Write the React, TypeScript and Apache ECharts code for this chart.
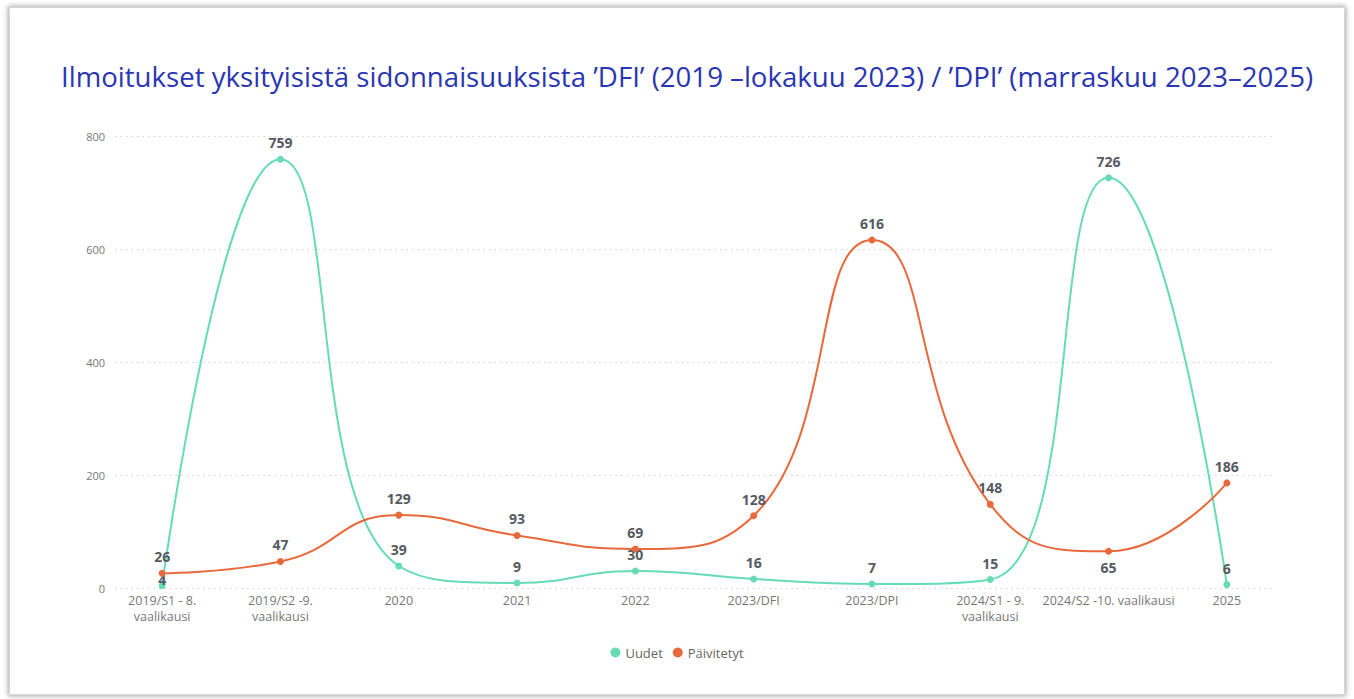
import React, { useEffect, useRef } from "react";
import * as echarts from "echarts";

const categories = [
  "2019/S1 - 8.\nvaalikausi",
  "2019/S2 -9.\nvaalikausi",
  "2020",
  "2021",
  "2022",
  "2023/DFI",
  "2023/DPI",
  "2024/S1 - 9.\nvaalikausi",
  "2024/S2 -10. vaalikausi",
  "2025",
];
const uudet = [4, 759, 39, 9, 30, 16, 7, 15, 726, 6];
const paivitetyt = [26, 47, 129, 93, 69, 128, 616, 148, 65, 186];
const belowIdx = [8]; // Päivitetyt labels placed below the point
const closeIdx = [0]; // Uudet labels tucked close to the point
const yTicks = { min: 0, max: 800, interval: 200 };

const TITLE =
  "Ilmoitukset yksityisistä sidonnaisuuksista ’DFI’ (2019 –lokakuu 2023) / ’DPI’ (marraskuu 2023–2025)";

const FONT = "'Open Sans', 'Noto Sans', sans-serif";
const GREEN = "#66dcb2";
const ORANGE = "#e8693b";

export default function App() {
  const ref = useRef<HTMLDivElement>(null);
  useEffect(() => {
    if (!ref.current) return;
    const chart = echarts.init(ref.current, undefined, { renderer: "svg" });
    const labelStyle = {
      show: true,
      fontFamily: FONT,
      fontSize: 14,
      fontWeight: "bold" as const,
      color: "#565a62",
      distance: 6,
    };
    chart.setOption({
      animation: false,
      textStyle: { fontFamily: FONT },
      title: {
        text: TITLE,
        left: 56,
        top: 57,
        textStyle: {
          fontFamily: FONT,
          fontSize: 27.6,
          fontWeight: "normal",
          color: "#2a36b1",
        },
      },
      legend: {
        bottom: 35,
        left: "center",
        icon: "circle",
        itemWidth: 10,
        itemHeight: 10,
        itemGap: 10,
        textStyle: { fontFamily: FONT, fontSize: 13, color: "#666" },
        data: ["Uudet", "Päivitetyt"],
      },
      grid: [
        { left: 115, right: 79, top: 136, bottom: 111 },
        { left: 103, right: 68, top: 136, bottom: 111 },
      ],
      xAxis: [
        { type: "category", gridIndex: 0, data: categories, show: false },
        {
          type: "category",
          gridIndex: 1,
          data: categories,
          boundaryGap: true,
          axisLine: { show: false },
          axisTick: { show: false },
          axisLabel: {
            interval: 0,
            color: "#777",
            fontFamily: FONT,
            fontSize: 12.5,
            lineHeight: 16,
            margin: 4,
          },
        },
      ],
      yAxis: [
        {
          type: "value",
          gridIndex: 0,
          ...yTicks,
          axisLine: { show: false },
          axisTick: { show: false },
          splitLine: {
            lineStyle: { type: [1.5, 4], color: "#cfcfcf", width: 1 },
          },
          axisLabel: { color: "#777", fontFamily: FONT, fontSize: 11, margin: 10 },
        },
        {
          type: "value",
          gridIndex: 1,
          ...yTicks,
          show: false,
          splitLine: { show: false },
        },
      ],
      series: [
        {
          name: "Uudet",
          type: "line",
          xAxisIndex: 1,
          yAxisIndex: 1,
          data: uudet.map((v, i) =>
            closeIdx.includes(i)
              ? { value: v, label: { position: "top", distance: -4 } }
              : v
          ),
          smooth: 0.5,
          symbol: "circle",
          symbolSize: 7,
          itemStyle: { color: GREEN },
          lineStyle: { color: GREEN, width: 2 },
          label: { ...labelStyle, position: "top" },
          z: 2,
        },
        {
          name: "Päivitetyt",
          type: "line",
          xAxisIndex: 1,
          yAxisIndex: 1,
          data: paivitetyt.map((v, i) =>
            belowIdx.includes(i)
              ? { value: v, label: { position: "bottom" } }
              : v
          ),
          smooth: 0.5,
          symbol: "circle",
          symbolSize: 7,
          itemStyle: { color: ORANGE },
          lineStyle: { color: ORANGE, width: 2 },
          label: { ...labelStyle, position: "top" },
          z: 3,
        },
      ],
    });
    return () => chart.dispose();
  }, []);

  return (
    <div style={{ position: "fixed", left: 0, top: 0, width: 1354, height: 699, background: "#fff" }}>
      <div
        style={{
          position: "absolute",
          left: 9,
          top: 7,
          width: 1334,
          height: 686,
          border: "1px solid #d6d6d6",
          boxShadow: "0 0 5px 1px rgba(0,0,0,0.35)",
          background: "#fff",
        }}
      />
      <div ref={ref} style={{ position: "absolute", left: 0, top: 0, width: 1354, height: 699 }} />
    </div>
  );
}
